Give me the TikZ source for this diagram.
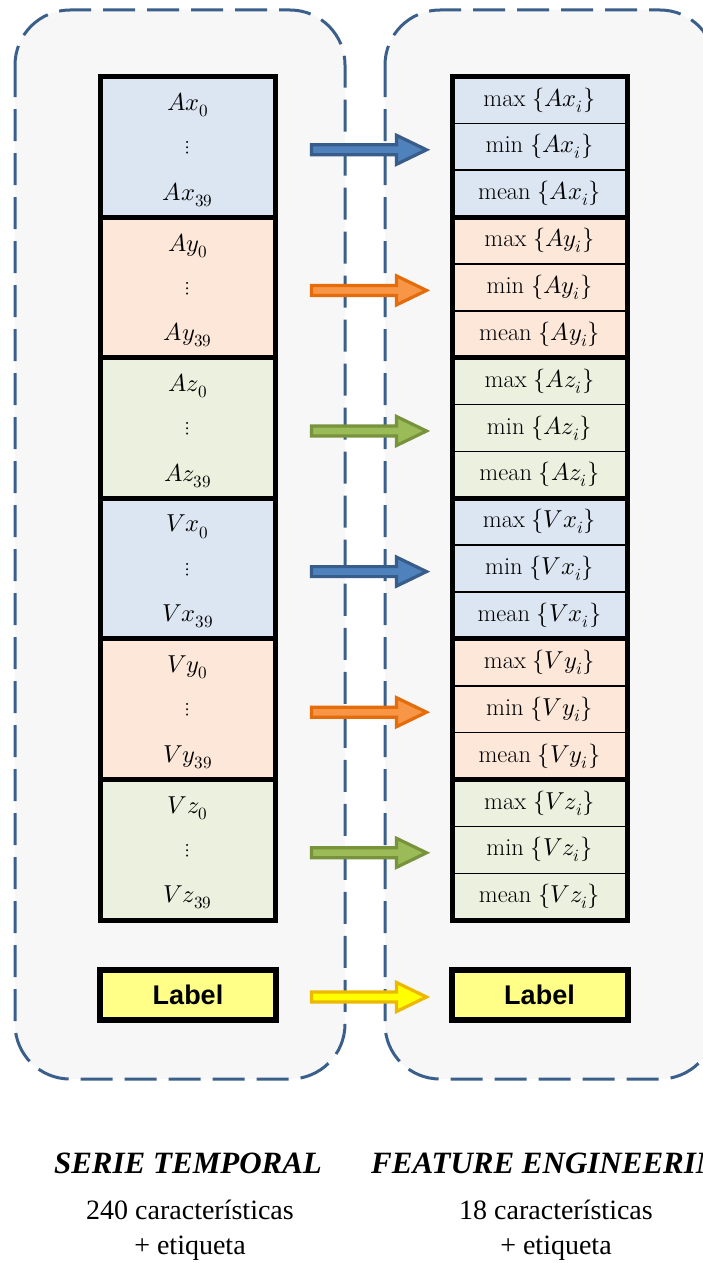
\documentclass[tikz,border=0pt]{standalone}
\usepackage{fontspec}
\usepackage{unicode-math}
\setmathfont{Latin Modern Math}
\newfontfamily\timesf{Liberation Serif}
\newfontfamily\arialf{Liberation Sans}
\usetikzlibrary{calc}

\definecolor{frameblue}{HTML}{3A5F8B}
\definecolor{panelgrey}{HTML}{F7F7F7}
\definecolor{cellblue}{HTML}{DCE6F2}
\definecolor{cellorange}{HTML}{FCE7D9}
\definecolor{cellgreen}{HTML}{EBF1DE}
\definecolor{labelyellow}{HTML}{FFFF88}
\definecolor{arrblue}{HTML}{4F81BD}
\definecolor{arrblueedge}{HTML}{385D8A}
\definecolor{arrorange}{HTML}{F79646}
\definecolor{arrorangeedge}{HTML}{E46C0A}
\definecolor{arrgreen}{HTML}{9BBB59}
\definecolor{arrgreenedge}{HTML}{77933C}
\definecolor{arryellow}{HTML}{FFFF00}
\definecolor{arryellowedge}{HTML}{EDB800}

\newcommand\cellfont{\fontsize{24.5}{28}\selectfont}

% block arrow from start coordinate #1 to tip coordinate #2
\newcommand\blockarrow[4]{%
  \filldraw[fill=#3, draw=#4, line width=3.2pt, line join=miter]
    ($(#1)+(0,-5)$) -- ($(#2)+(-30,-5)$) -- ($(#2)+(-30,-14.5)$) -- (#2)
    -- ($(#2)+(-30,14.5)$) -- ($(#2)+(-30,5)$) -- ($(#1)+(0,5)$) -- cycle;}

\tikzset{
  panel/.style={draw=frameblue, fill=panelgrey, line width=3pt,
    dash pattern=on 32pt off 12pt, rounded corners=55pt},
  groupbox/.style={draw=black, line width=5pt, minimum width=175.5pt,
    minimum height=140.6pt, inner sep=0pt},
  framebox/.style={draw=black, line width=5pt, minimum width=175pt,
    minimum height=140.6pt, inner sep=0pt},
  rowbox/.style={draw=black, line width=1.5pt, minimum width=175pt,
    minimum height=46.87pt, inner sep=0pt, font=\cellfont},
  celltext/.style={inner sep=0pt, font=\cellfont},
  labelbox/.style={draw=black, fill=labelyellow, line width=6pt,
    minimum width=176pt, minimum height=50pt, inner sep=0pt,
    font=\arialf\bfseries\fontsize{27}{30}\selectfont},
  title/.style={font=\timesf\bfseries\itshape\fontsize{31}{36}\selectfont},
  caption/.style={align=center, font=\timesf\fontsize{28}{35}\selectfont}
}

\begin{document}
\begin{tikzpicture}[x=1pt, y=-1pt]
\useasboundingbox (0,0) rectangle (703,1263);

% dashed panels
\draw[panel] (15,10) rectangle (345,1079);
\draw[panel] (385,10) rectangle (715,1079);

\foreach \k/\vr/\cc in {1/Ax/cellblue, 2/Ay/cellorange, 3/Az/cellgreen,
    4/Vx/cellblue, 5/Vy/cellorange, 6/Vz/cellgreen}{
  % time-series block
  \node[groupbox, fill=\cc] (L\k) at (187.75,{76.5+140.6*(\k-0.5)}) {};
  \node[celltext] (L\k top) at ($(L\k.north)+(0,31)$) {$\vr_{0}$};
  \node[celltext, font=\fontsize{19}{20}\selectfont] (L\k dots) at ($(L\k.center)+(0,1)$) {$\vdots$};
  \node[celltext] (L\k bot) at ($(L\k.south)+(0,-25)$) {$\vr_{39}$};
  % statistics block
  \node[rowbox, fill=\cc] (R\k a) at (539.5,{76.5+140.6*(\k-1)+46.87*0.5}) {$\mathrm{max}\;\{\vr_{i}\}$};
  \node[rowbox, fill=\cc] (R\k b) at (539.5,{76.5+140.6*(\k-1)+46.87*1.5}) {$\mathrm{min}\;\{\vr_{i}\}$};
  \node[rowbox, fill=\cc] (R\k c) at (539.5,{76.5+140.6*(\k-1)+46.87*2.5}) {$\mathrm{mean}\;\{\vr_{i}\}$};
  \node[framebox] (R\k) at (539.5,{76.5+140.6*(\k-0.5)}) {};
}

% label boxes
\node[labelbox] (Llab) at (188,995) {Label};
\node[labelbox] (Rlab) at (539.5,995) {Label};

% arrows
\foreach \k/\ac in {1/arrblue, 2/arrorange, 3/arrgreen, 4/arrblue, 5/arrorange, 6/arrgreen}{
  \coordinate (s\k) at ($(L\k.east)+(33.5,3)$);
  \coordinate (t\k) at ($(R\k.west)+(-23,3)$);
  \blockarrow{s\k}{t\k}{\ac}{\ac edge}
}
\coordinate (slab) at ($(Llab.east)+(32.5,2)$);
\coordinate (tlab) at ($(Rlab.west)+(-22,2)$);
\blockarrow{slab}{tlab}{arryellow}{arryellowedge}

% captions
\node[title] (t1) at (188,1163) {SERIE TEMPORAL};
\node[title] (t2) at (556,1163) {FEATURE ENGINEERING};
\node[caption] (c1) at (190,1230) {240 características\\+ etiqueta};
\node[caption] (c2) at (556,1230) {18 características\\+ etiqueta};
\end{tikzpicture}
\end{document}
